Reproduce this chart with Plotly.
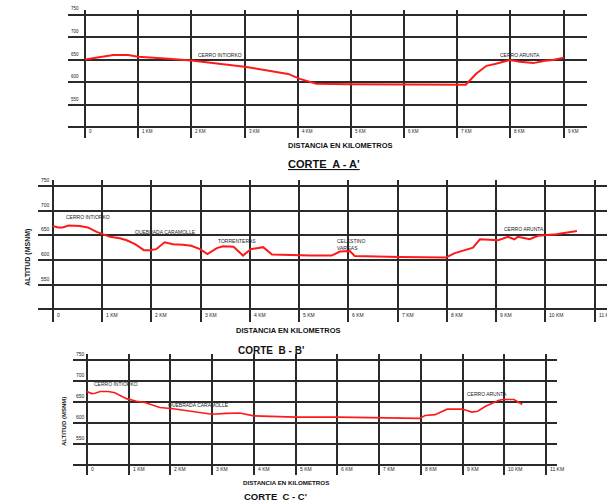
import plotly.graph_objects as go

W, H = 607, 502
FONT = "Liberation Sans, Arial, sans-serif"
RED = "#ff1a1a"
GRID = "#2a2a2a"

# ---- data ----
alt_ticks = [500, 550, 600, 650, 700, 750]
alt_labels = ["", "550", "600", "650", "700", "750"]
km_ticks_a = list(range(0, 10))
km_ticks_bc = list(range(0, 12))
km_labels = ["0"] + [f"{k} KM" for k in range(1, 12)]

# Corte A - A'
a_km = [0, 0.28, 0.53, 0.81, 1.0, 1.5, 2.0, 3.0, 3.82, 4.04, 4.35, 4.98, 6.0, 7.16,
        7.36, 7.55, 7.71, 7.99, 8.18, 8.43, 8.65, 8.8, 9.0]
a_alt = [650, 656, 660, 660, 656, 652, 648, 634, 618, 607, 596, 595, 595, 594,
         619, 636, 640, 649, 645, 642, 647, 649, 654]
a_names = ["CERRO INTIORKO", "CERRO ARUNTA"]
a_name_km = [2.54, 8.18]
a_name_alt = [660, 660]

# Corte B - B'
b_km = [0, 0.11, 0.2, 0.32, 0.55, 0.71, 0.89, 1.03, 1.16, 1.36, 1.5, 1.67, 1.85, 1.97,
        2.1, 2.27, 2.44, 2.64, 2.81, 2.99, 3.14, 3.33, 3.46, 3.67, 3.86, 4.02, 4.27,
        4.45, 4.68, 5.22, 5.66, 5.83, 6.03, 6.13, 7.04, 7.98, 8.16, 8.53, 8.67, 9.04,
        9.24, 9.37, 9.44, 9.68, 9.85, 10.22, 10.64]
b_alt = [669, 666, 666, 670, 669, 666, 657, 651, 647, 644, 640, 632, 620, 620,
         622, 636, 632, 631, 629, 622, 612, 624, 628, 627, 609, 622, 626,
         611, 610, 609, 609, 617, 618, 608, 606, 605, 614, 625, 642, 640,
         647, 642, 647, 642, 649, 652, 659]
b_names = ["CERRO INTIORKO", "QUEBRADA CARAMOLLE", "TORRENTERAS", "CERRO ARUNTA"]
b_name_km = [0.72, 2.28, 3.74, 9.57]
b_name_alt = [687, 657, 638, 663]
b_celestino = "CELESTINO<br>VARGAS"
b_celestino_km, b_celestino_alt = 5.73, 632

# Corte C - C'
c_km = [0, 0.12, 0.2, 0.32, 0.52, 0.67, 0.95, 1.19, 1.39, 1.75, 2.07, 2.54, 3.0, 3.34,
        3.66, 4.0, 4.38, 5.0, 6.0, 7.0, 7.97, 8.1, 8.34, 8.63, 8.97, 9.07, 9.22, 9.36,
        9.55, 9.87, 9.99, 10.23, 10.43]
c_alt = [675, 670, 671, 675, 675, 672, 658, 652, 649, 637, 634, 628, 621, 623,
         624, 617, 616, 614, 614, 612, 611, 618, 620, 633, 633, 631, 626, 628,
         640, 654, 656, 656, 644]
c_names = ["CERRO INTIORKO", "QUEBRADA CARAMOLLE", "CERRO ARUNTA"]
c_name_km = [0.70, 2.67, 9.59]
c_name_alt = [693, 643, 668]


def fx(p):
    return p / W


def fy(p):
    return 1 - p / H


fig = go.Figure()

panels = [
    # suffix, km, alt, x px domain, y px domain, x range, y range, ticks, line width
    ("", a_km, a_alt, (68, 587), (10, 138), (-0.32, 9.44), (475.6, 760), km_ticks_a, 2),
    ("2", b_km, b_alt, (38, 607), (180, 321.7), (-0.30, 11.25), (474.9, 762.2), km_ticks_bc, 2),
    ("3", c_km, c_alt, (73, 557), (354.3, 475), (-0.33, 11.26), (476.2, 763.6), km_ticks_bc, 1.6),
]

layout = {}
annotations = []
for suf, km, alt, dx, dy, rx, ry, kt, lw in panels:
    xa, ya = "x" + suf, "y" + suf
    fig.add_trace(go.Scatter(x=km, y=alt, mode="lines", xaxis=xa, yaxis=ya,
                             line=dict(color=RED, width=lw), hoverinfo="skip"))
    layout["xaxis" + suf] = dict(domain=[fx(dx[0]), fx(dx[1])], range=list(rx),
                                 anchor=ya, tickvals=kt, showticklabels=False,
                                 showgrid=True, gridcolor=GRID, gridwidth=2,
                                 zeroline=False, showline=False, ticks="")
    layout["yaxis" + suf] = dict(domain=[fy(dy[1]), fy(dy[0])], range=list(ry),
                                 anchor=xa, tickvals=alt_ticks, showticklabels=False,
                                 showgrid=True, gridcolor=GRID, gridwidth=2,
                                 zeroline=False, showline=False, ticks="")
    fs = 4.5 if suf == "" else 5
    # km tick labels
    for k in kt:
        annotations.append(dict(x=k, y=489.5, xref=xa, yref=ya, text=km_labels[k],
                                showarrow=False, xanchor="left", yanchor="middle",
                                xshift=2, font=dict(size=fs, color="#222")))
    # altitude tick labels
    for v, t in zip(alt_ticks, alt_labels):
        if t:
            annotations.append(dict(x=0, y=v, xref=xa + " domain", yref=ya, text=t,
                                    showarrow=False, xanchor="left", yanchor="bottom",
                                    xshift=1, yshift=1, font=dict(size=fs, color="#222")))


def add_names(names, kms, alts, xa, ya):
    for n, k, a in zip(names, kms, alts):
        annotations.append(dict(x=k, y=a, xref=xa, yref=ya, text=n, showarrow=False,
                                xanchor="center", yanchor="middle",
                                font=dict(size=5, color="#222")))


add_names(a_names, a_name_km, a_name_alt, "x", "y")
add_names(b_names, b_name_km, b_name_alt, "x2", "y2")
add_names(c_names, c_name_km, c_name_alt, "x3", "y3")
annotations.append(dict(x=b_celestino_km, y=b_celestino_alt, xref="x2", yref="y2",
                        text=b_celestino, showarrow=False, xanchor="left", align="left",
                        yanchor="middle", font=dict(size=5, color="#222")))


def add_text(text, px, py, size, rot=0):
    annotations.append(dict(x=fx(px), y=fy(py), xref="paper", yref="paper", text=text,
                            showarrow=False, xanchor="center", yanchor="middle",
                            textangle=rot, font=dict(size=size, color="#111")))


add_text("<b>DISTANCIA EN KILOMETROS</b>", 340, 146, 7.5)
add_text("<b><u>CORTE  A - A'</u></b>", 324, 164, 11)
add_text("<b>DISTANCIA EN KILOMETROS</b>", 288, 330, 7.5)
add_text("<b>CORTE  B - B'</b>", 271, 350, 10)
add_text("<b>ALTITUD (MSNM)</b>", 28, 258, 7, -90)
add_text("<b>DISTANCIA EN KILOMETROS</b>", 286, 482, 6.2)
add_text("<b>CORTE  C - C'</b>", 275, 496, 9.5)
add_text("<b>ALTITUD (MSNM)</b>", 64, 422, 6, -90)

fig.update_layout(
    width=W, height=H,
    margin=dict(l=0, r=0, t=0, b=0),
    paper_bgcolor="white", plot_bgcolor="white",
    showlegend=False,
    font=dict(family=FONT),
    annotations=annotations,
    **layout,
)

fig.write_html("out.html", config={"displayModeBar": False},
               post_script="document.body.style.margin='0';")
